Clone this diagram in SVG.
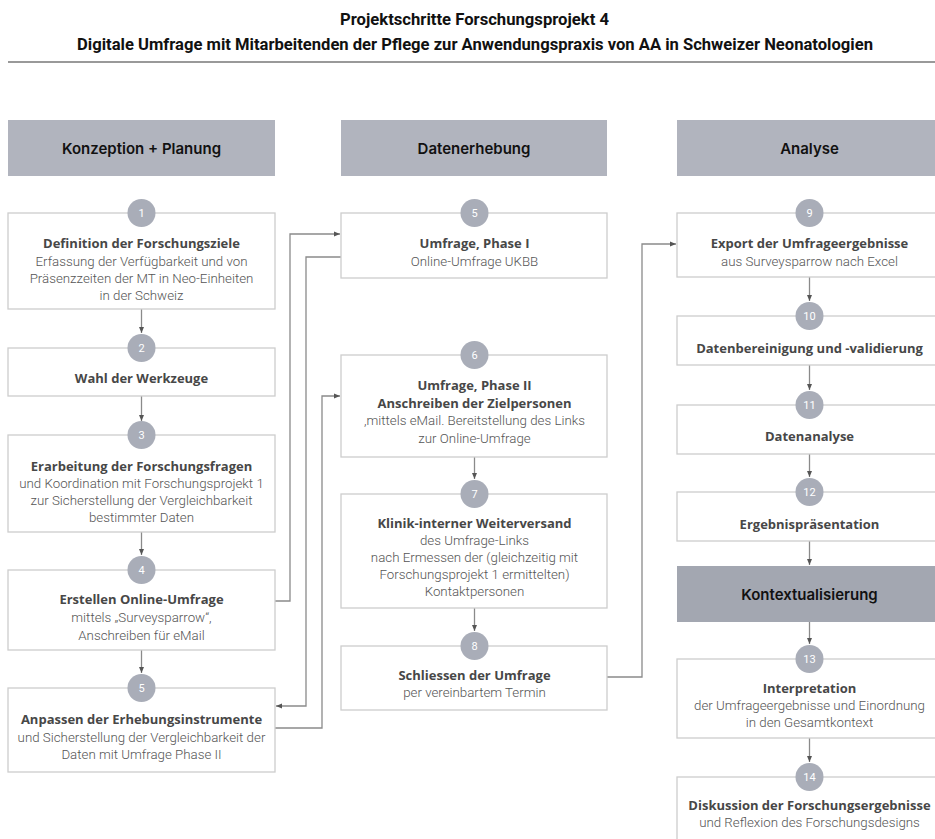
<svg xmlns="http://www.w3.org/2000/svg" width="935" height="839" viewBox="0 0 935 839">
  <defs>
    <marker id="arr" viewBox="0 0 6 6" refX="6" refY="3" markerWidth="6" markerHeight="6" markerUnits="userSpaceOnUse" orient="auto">
      <path d="M0,0.5 L6,3 L0,5.5 Z" fill="#555"/>
    </marker>
    <style>
      .title { font-family: "Roboto", "Liberation Sans", sans-serif; font-weight: 700; font-size: 16.5px; fill: #111; text-anchor: middle; }
      .rule { stroke: #777; stroke-width: 1.3; }
      .hdr rect { fill: #b1b4be; }
      .hdr text { font-family: "Inter", "Liberation Sans", sans-serif; font-weight: 600; font-size: 15px; fill: #111; text-anchor: middle; dominant-baseline: central; }
      .hdr.dark rect { fill: #a3a7b1; }
      .box { fill: #fff; stroke: #cdcdcd; stroke-width: 1.3; }
      .num { fill: #a9adb8; }
      .numt { font-family: "Roboto", "Liberation Sans", sans-serif; font-size: 11px; fill: #fff; text-anchor: middle; dominant-baseline: central; }
      .b { font-family: "Open Sans", "Liberation Sans", sans-serif; font-weight: 700; font-size: 13px; fill: #474747; text-anchor: middle; dominant-baseline: central; }
      .t { font-family: "Roboto", "Liberation Sans", sans-serif; font-weight: 300; font-size: 13.3px; fill: #555; text-anchor: middle; dominant-baseline: central; }
      .conn path { fill: none; stroke: #8a8a8a; stroke-width: 1.3; marker-end: url(#arr); }
    </style>
  </defs>

  <rect width="935" height="839" fill="#fff"/>

  <!-- heading -->
  <text class="title" x="474.5" y="25" textLength="269" lengthAdjust="spacingAndGlyphs">Projektschritte Forschungsprojekt 4</text>
  <text class="title" x="475" y="50" textLength="796" lengthAdjust="spacingAndGlyphs">Digitale Umfrage mit Mitarbeitenden der Pflege zur Anwendungspraxis von AA in Schweizer Neonatologien</text>
  <line class="rule" x1="8" y1="62" x2="935" y2="62"/>

  <!-- connectors -->
  <g id="connectors" class="conn">
    <path d="M141.5,309 V333"/>
    <path d="M141.5,396 V421"/>
    <path d="M141.5,532 V555"/>
    <path d="M141.5,650 V673"/>
    <path d="M275,601 H290 V234 H340"/>
    <path d="M341,257 H306 V706 H276"/>
    <path d="M275,728 H322 V396 H340"/>
    <path d="M474.5,457 V479"/>
    <path d="M474.5,608 V631"/>
    <path d="M607,677 H642 V244 H676"/>
    <path d="M809.5,277 V301"/>
    <path d="M809.5,365 V390"/>
    <path d="M809.5,454 V477"/>
    <path d="M809.5,541 V565"/>
    <path d="M809.5,622 V644"/>
    <path d="M809.5,738 V762"/>
  </g>

  <!-- column headers -->
  <g id="hdr-konzeption" class="hdr"><rect x="8" y="120" width="267" height="56"/><text x="141.5" y="148">Konzeption + Planung</text></g>
  <g id="hdr-datenerhebung" class="hdr"><rect x="341" y="120" width="266" height="56"/><text x="474" y="148">Datenerhebung</text></g>
  <g id="hdr-analyse" class="hdr"><rect x="677" y="120" width="265" height="56"/><text x="809.5" y="148">Analyse</text></g>
  <g id="hdr-kontext" class="hdr dark"><rect x="677" y="566" width="265" height="56"/><text x="809.5" y="594">Kontextualisierung</text></g>

  <!-- column 1 -->
  <g id="step1">
    <rect class="box" x="8" y="213" width="267" height="96"/>
    <circle class="num" cx="141.5" cy="213" r="14"/><text class="numt" x="141.5" y="213">1</text>
    <text class="b" x="141.5" y="243">Definition der Forschungsziele</text>
    <text class="t" x="141.5" y="261">Erfassung der Verfügbarkeit und von</text>
    <text class="t" x="141.5" y="278">Präsenzzeiten der MT in Neo-Einheiten</text>
    <text class="t" x="141.5" y="295">in der Schweiz</text>
  </g>
  <g id="step2">
    <rect class="box" x="8" y="348" width="267" height="48"/>
    <circle class="num" cx="141.5" cy="348" r="14"/><text class="numt" x="141.5" y="348">2</text>
    <text class="b" x="141.5" y="378">Wahl der Werkzeuge</text>
  </g>
  <g id="step3">
    <rect class="box" x="8" y="435" width="267" height="97"/>
    <circle class="num" cx="141.5" cy="435" r="14"/><text class="numt" x="141.5" y="435">3</text>
    <text class="b" x="141.5" y="466">Erarbeitung der Forschungsfragen</text>
    <text class="t" x="141.5" y="483">und Koordination mit Forschungsprojekt 1</text>
    <text class="t" x="141.5" y="500">zur Sicherstellung der Vergleichbarkeit</text>
    <text class="t" x="141.5" y="517">bestimmter Daten</text>
  </g>
  <g id="step4">
    <rect class="box" x="8" y="570" width="267" height="80"/>
    <circle class="num" cx="141.5" cy="570" r="14"/><text class="numt" x="141.5" y="570">4</text>
    <text class="b" x="141.5" y="599">Erstellen Online-Umfrage</text>
    <text class="t" x="141.5" y="617">mittels „Surveysparrow“,</text>
    <text class="t" x="141.5" y="635">Anschreiben für eMail</text>
  </g>
  <g id="step5a">
    <rect class="box" x="8" y="688" width="267" height="84"/>
    <circle class="num" cx="141.5" cy="688" r="14"/><text class="numt" x="141.5" y="688">5</text>
    <text class="b" x="141.5" y="719">Anpassen der Erhebungsinstrumente</text>
    <text class="t" x="141.5" y="737">und Sicherstellung der Vergleichbarkeit der</text>
    <text class="t" x="141.5" y="754">Daten mit Umfrage Phase II</text>
  </g>

  <!-- column 2 -->
  <g id="step5b">
    <rect class="box" x="341" y="213" width="266" height="65"/>
    <circle class="num" cx="474.5" cy="213" r="14"/><text class="numt" x="474.5" y="213">5</text>
    <text class="b" x="474.5" y="243">Umfrage, Phase I</text>
    <text class="t" x="474.5" y="261">Online-Umfrage UKBB</text>
  </g>
  <g id="step6">
    <rect class="box" x="341" y="355" width="266" height="102"/>
    <circle class="num" cx="474.5" cy="355" r="14"/><text class="numt" x="474.5" y="355">6</text>
    <text class="b" x="474.5" y="385">Umfrage, Phase II</text>
    <text class="b" x="474.5" y="403">Anschreiben der Zielpersonen</text>
    <text class="t" x="474.5" y="420">,mittels eMail. Bereitstellung des Links</text>
    <text class="t" x="474.5" y="438">zur Online-Umfrage</text>
  </g>
  <g id="step7">
    <rect class="box" x="341" y="494" width="266" height="114"/>
    <circle class="num" cx="474.5" cy="494" r="14"/><text class="numt" x="474.5" y="494">7</text>
    <text class="b" x="474.5" y="523">Klinik-interner Weiterversand</text>
    <text class="t" x="474.5" y="540">des Umfrage-Links</text>
    <text class="t" x="474.5" y="557">nach Ermessen der (gleichzeitig mit</text>
    <text class="t" x="474.5" y="574">Forschungsprojekt 1 ermittelten)</text>
    <text class="t" x="474.5" y="591">Kontaktpersonen</text>
  </g>
  <g id="step8">
    <rect class="box" x="341" y="646" width="266" height="64"/>
    <circle class="num" cx="474.5" cy="646" r="14"/><text class="numt" x="474.5" y="646">8</text>
    <text class="b" x="474.5" y="675">Schliessen der Umfrage</text>
    <text class="t" x="474.5" y="692">per vereinbartem Termin</text>
  </g>

  <!-- column 3 -->
  <g id="step9">
    <rect class="box" x="677" y="213" width="265" height="64"/>
    <circle class="num" cx="809.5" cy="213" r="14"/><text class="numt" x="809.5" y="213">9</text>
    <text class="b" x="809.5" y="243">Export der Umfrageergebnisse</text>
    <text class="t" x="809.5" y="261">aus Surveysparrow nach Excel</text>
  </g>
  <g id="step10">
    <rect class="box" x="677" y="316" width="265" height="49"/>
    <circle class="num" cx="809.5" cy="316" r="14"/><text class="numt" x="809.5" y="316">10</text>
    <text class="b" x="809.5" y="348">Datenbereinigung und -validierung</text>
  </g>
  <g id="step11">
    <rect class="box" x="677" y="405" width="265" height="49"/>
    <circle class="num" cx="809.5" cy="405" r="14"/><text class="numt" x="809.5" y="405">11</text>
    <text class="b" x="809.5" y="436">Datenanalyse</text>
  </g>
  <g id="step12">
    <rect class="box" x="677" y="492" width="265" height="49"/>
    <circle class="num" cx="809.5" cy="492" r="14"/><text class="numt" x="809.5" y="492">12</text>
    <text class="b" x="809.5" y="524">Ergebnispräsentation</text>
  </g>
  <g id="step13">
    <rect class="box" x="677" y="659" width="265" height="79"/>
    <circle class="num" cx="809.5" cy="659" r="14"/><text class="numt" x="809.5" y="659">13</text>
    <text class="b" x="809.5" y="688">Interpretation</text>
    <text class="t" x="809.5" y="705">der Umfrageergebnisse und Einordnung</text>
    <text class="t" x="809.5" y="722">in den Gesamtkontext</text>
  </g>
  <g id="step14">
    <rect class="box" x="677" y="777" width="265" height="80"/>
    <circle class="num" cx="809.5" cy="777" r="14"/><text class="numt" x="809.5" y="777">14</text>
    <text class="b" x="809.5" y="805">Diskussion der Forschungsergebnisse</text>
    <text class="t" x="809.5" y="822">und Reflexion des Forschungsdesigns</text>
  </g>
</svg>
